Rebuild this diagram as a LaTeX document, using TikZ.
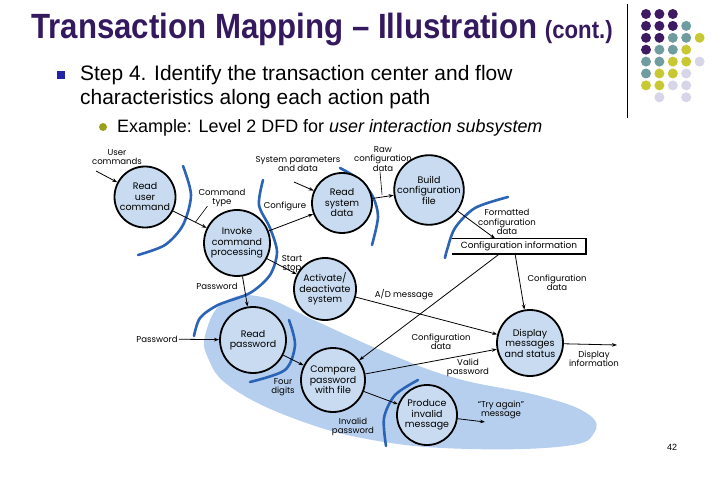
\documentclass[tikz,border=0pt]{standalone}
\usepackage{fontspec}
\setmainfont{Liberation Sans}
\newfontfamily\slidefont[FakeStretch=0.89]{Liberation Sans}
\newfontfamily\dfdfont{Poppins}
\usetikzlibrary{arrows.meta,positioning}

\definecolor{titlepurple}{HTML}{34195F}
\definecolor{sqblue}{HTML}{2424A8}
\definecolor{olivedot}{HTML}{9AA01E}
\definecolor{dotP}{HTML}{3E1A62}
\definecolor{dotT}{HTML}{6F9C9E}
\definecolor{dotY}{HTML}{C8C832}
\definecolor{dotL}{HTML}{D6D6E8}
\definecolor{bubblefill}{HTML}{C8DBF0}
\definecolor{blobfill}{HTML}{B7CFEE}
\definecolor{arcblue}{HTML}{2B63B5}

\begin{document}
\begin{tikzpicture}[x=1bp, y=-1bp,
    bubble/.style={circle, draw=black, line width=1.8bp, fill=bubblefill,
                   minimum size=62bp, inner sep=0pt, align=center,
                   font=\dfdfont\fontsize{9.5}{10.5}\selectfont},
    lbl/.style={align=center, inner sep=1pt,
                font=\dfdfont\fontsize{8.6}{9.4}\selectfont},
    flow/.style={line width=0.8bp, -{Stealth[length=5bp, width=3.6bp]}},
    lead/.style={line width=0.6bp},
    bound/.style={draw=arcblue, line width=2.6bp, line cap=round},
  ]
  \useasboundingbox (0,0) rectangle (720,480);

  % slide heading
  \node[anchor=base west, inner sep=0pt, text=titlepurple,
        font=\slidefont\bfseries\fontsize{35.2}{42}\selectfont] (title) at (31,39)
        {Transaction Mapping – Illustration};
  \node[anchor=base west, inner sep=0pt, text=titlepurple,
        font=\slidefont\bfseries\fontsize{25}{30}\selectfont] (cont) at ([xshift=7bp]title.base east)
        {(cont.)};
  \draw[line width=0.8bp] (627,4) coordinate (vtop) -- (627,118) coordinate (vbot);

  % dot pattern
  \foreach \c/\r/\col in {0/0/dotP,1/0/dotP,2/0/dotP,
      0/1/dotP,1/1/dotP,2/1/dotP,3/1/dotT,
      0/2/dotP,1/2/dotP,2/2/dotT,3/2/dotT,4/2/dotY,
      0/3/dotP,1/3/dotT,2/3/dotT,3/3/dotY,
      0/4/dotT,1/4/dotT,2/4/dotY,3/4/dotY,4/4/dotL,
      0/5/dotT,1/5/dotY,2/5/dotY,3/5/dotL,
      0/6/dotY,1/6/dotY,2/6/dotL,3/6/dotL,
      1/7/dotL,3/7/dotL}
    \fill[\col] (646+13.4*\c, 14+11.9*\r) circle (5bp);

  % bullets
  \node[fill=sqblue, minimum size=8bp, inner sep=0pt] (sq) at (61,75) {};
  \node[anchor=base west, inner sep=0pt, font=\fontsize{21}{25}\selectfont] (stepA) at (80,81)
        {Step 4. Identify the transaction center and flow};
  \node[anchor=base west, inner sep=0pt, font=\fontsize{21}{25}\selectfont] (stepB) at (80,105)
        {characteristics along each action path};
  \node[circle, fill=olivedot, minimum size=8bp, inner sep=0pt] (dot) at (103,127) {};
  \node[anchor=base west, inner sep=0pt, font=\fontsize{18}{21}\selectfont] (example) at (117,133)
        {Example: Level 2 DFD for \textit{user interaction subsystem}};

  % transaction region
  \fill[blobfill] plot[smooth cycle, tension=0.7] coordinates {
      (206,332) (224,302) (262,297) (318,322) (385,352) (455,378)
      (540,396) (588,414) (594,433) (566,446) (470,449) (378,441)
      (298,420) (232,388) (208,358)};

  % boundary arcs
  \draw[bound] plot[smooth] coordinates {(183,166) (191,195) (183,225) (165,245) (138,255)};
  \draw[bound] plot[smooth] coordinates {(263,180) (259,205) (270,228) (277,252) (270,275)
      (250,293) (218,305) (200,318) (194,336)};
  \draw[bound] plot[smooth] coordinates {(340,168) (360,180) (373,197) (378,217) (372,245)};
  \draw[bound] plot[smooth] coordinates {(508,197) (475,208) (455,228) (447,250) (445,258)};
  \draw[bound] plot[smooth] coordinates {(289,320) (295,345) (285,370) (250,382)};
  \draw[bound] plot[smooth] coordinates {(418,380) (395,395) (384,418) (386,446)};

  % processes
  \node[bubble, minimum size=61bp] (rdcmd) at (145,197) {Read\\user\\command};
  \node[bubble, minimum size=66bp] (invoke) at (237,243) {Invoke\\command\\processing};
  \node[bubble, minimum size=60bp] (rdsys) at (342,203) {Read\\system\\data};
  \node[bubble, minimum size=66bp] (build) at (429,190) {Build\\configuration\\file};
  \node[bubble] (actv) at (325,289) {Activate/\\deactivate\\system};
  \node[bubble, minimum size=66bp] (rdpw) at (253,340) {Read\\password};
  \node[bubble, minimum size=64bp] (cmppw) at (333,380) {Compare\\password\\with file};
  \node[bubble, minimum size=66bp] (disp) at (530,343) {Display\\messages\\and status};
  \node[bubble, minimum size=60bp] (inval) at (427,415) {Produce\\invalid\\message};

  % data store
  \node[lbl, font=\dfdfont\fontsize{9}{10}\selectfont, minimum width=134bp, minimum height=15bp] (store) at (519,246)
        {Configuration information};
  \draw[line width=0.8bp] (store.north west) -- (store.north east);
  \draw[line width=2bp] (store.south west) -- (store.south east) -- (store.north east);
  \coordinate (stin) at (495,238.5);
  \coordinate (stcmp) at (500,253.5);
  \coordinate (stdsp) at (515,253.5);

  % external ends
  \node[lbl] (usercmd) at (117,157) {User\\commands};
  \coordinate (ucin) at (96,171);
  \node[lbl] (sysparam) at (298,164) {System parameters\\and data};
  \coordinate (spin) at (294,182);
  \node[lbl] (pwext) at (157,339) {Password};
  \node[lbl] (dispinfo) at (594,359) {Display\\information};
  \coordinate (dspout) at (617,345);
  \node[lbl] (tryagain) at (501,410) {“Try again”\\message};
  \coordinate (tryout) at (485,422);

  % flow labels
  \node[lbl] (cmdtype) at (222,198) {Command\\type};
  \node[lbl] (configure) at (285,206) {Configure};
  \node[lbl] (rawcfg) at (383,159) {Raw\\configuration\\data};
  \node[lbl] (fmtcfg) at (507,222) {Formatted\\configuration\\data};
  \node[lbl] (startstop) at (292,264) {Start\\stop};
  \node[lbl] (admsg) at (404,295) {A/D message};
  \node[lbl] (cfgdsp) at (557,283) {Configuration\\data};
  \node[lbl] (pwint) at (217,286) {Password};
  \node[lbl] (cfgcmp) at (441,342) {Configuration\\data};
  \node[lbl] (validpw) at (468,368) {Valid\\password};
  \node[lbl] (fourdig) at (283,387) {Four\\digits};
  \node[lbl] (invalpw) at (353,427) {Invalid\\password};

  % flows
  \draw[flow] (ucin) -- (rdcmd);
  \draw[flow] (rdcmd) -- (invoke);
  \draw[flow] (invoke) -- (rdsys);
  \draw[flow] (spin) -- (rdsys);
  \draw[flow] (rdsys) -- (build);
  \draw[flow] (build) -- (stin);
  \draw[flow] (invoke) -- (actv);
  \draw[flow] (invoke) -- (rdpw);
  \draw[flow] (pwext) -- (rdpw);
  \draw[flow] (rdpw) -- (cmppw);
  \draw[flow] (cmppw) -- (inval);
  \draw[flow] (cmppw) -- (disp);
  \draw[flow] (stcmp) -- (cmppw);
  \draw[flow] (stdsp) -- (disp);
  \draw[flow] (actv) -- (disp);
  \draw[flow] (disp) -- (dspout);
  \draw[flow] (inval) -- (tryout);

  % leaders
  \draw[lead] (cmdtype.south west) ++(10,-2) -- ++(-12,16);
  \draw[lead] (rawcfg.south) ++(-3,-1) -- ++(2,23);

  \node[font=\fontsize{9}{10}\selectfont, inner sep=0pt] (pagenum) at (672,447) {42};
\end{tikzpicture}
\end{document}
